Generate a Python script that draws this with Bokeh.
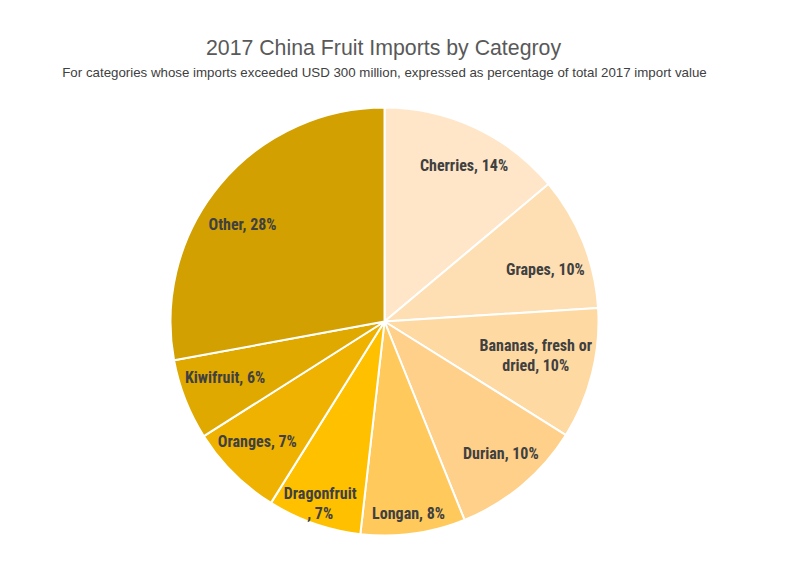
import math
from bokeh.plotting import figure
from bokeh.models import Range1d, ColumnDataSource
from bokeh.core.properties import value
from bokeh.embed import file_html
from bokeh.resources import INLINE

# ---- data ----
categories = ["Cherries", "Grapes", "Bananas, fresh or\ndried", "Durian", "Longan",
              "Dragonfruit\n", "Oranges", "Kiwifruit", "Other"]
shares = [13.9, 10.1, 9.9, 10.0, 7.9, 7.1, 7.1, 6.1, 27.9]
pct_labels = ["14%", "10%", "10%", "10%", "8%", "7%", "7%", "6%", "28%"]
colors = ["#FFE6C9", "#FEDFB4", "#FED9A2", "#FED089", "#FFC95C",
          "#FFC000", "#EFB200", "#E0A900", "#D2A000"]

title = "2017 China Fruit Imports by Categroy"
subtitle = ("For categories whose imports exceeded USD 300 million, "
            "expressed as percentage of total 2017 import value")

# ---- layout ----
W, H = 784, 560
CX, CY, R = 384, 576 - 321, 214
label_r = [175, 169, 155, 176, 193.5, 193, 175, 169, 172]
label_da = [-2.0, -4.0, 1.6, 1.4, -0.6, -0.2, -1.8, -2.0, 5.4]
LABEL_FONT = "'Liberation Sans Narrow', 'Roboto Condensed', 'DejaVu Sans Condensed', sans-serif"
TITLE_FONT = "'Liberation Sans', Arial, sans-serif"

total = sum(shares)
starts, ends, mids = [], [], []
acc = 0.0
for s in shares:
    a0 = math.pi / 2 - 2 * math.pi * acc / total
    acc += s
    a1 = math.pi / 2 - 2 * math.pi * acc / total
    starts.append(a0)
    ends.append(a1)
    mids.append((a0 + a1) / 2)

p = figure(width=W, height=H, output_backend="svg", toolbar_location=None,
           x_range=Range1d(0, W), y_range=Range1d(576 - H, 576),
           min_border=0, outline_line_color=None)
p.axis.visible = False
p.grid.visible = False
p.background_fill_color = "white"
p.border_fill_color = "white"

src = ColumnDataSource(dict(x=[CX] * len(shares), y=[CY] * len(shares),
                            start=starts, end=ends, color=colors))
p.wedge(x="x", y="y", radius=R, start_angle="start", end_angle="end",
        direction="clock", fill_color="color", line_color="white",
        line_width=2, source=src)

texts, lx, ly = [], [], []
for cat, pl, m, r, da in zip(categories, pct_labels, mids, label_r, label_da):
    texts.append(cat + ", " + pl)
    a = m + math.radians(da)
    lx.append(CX + r * math.cos(a))
    ly.append(CY + r * math.sin(a))

p.text(x=lx, y=ly, text=texts, text_align="center", text_baseline="middle",
       text_font=value(LABEL_FONT), text_font_style="bold",
       text_font_size="16px", text_color="#404040", text_line_height=1.05)

p.text(x=[383], y=[576 - 47], text=[title], text_align="center",
       text_baseline="middle", text_font=value(TITLE_FONT),
       text_font_size="21.3px", text_color="#595959")
p.text(x=[384], y=[576 - 72], text=[subtitle], text_align="center",
       text_baseline="middle", text_font=value(TITLE_FONT),
       text_font_size="13.3px", text_color="#404040")

open("out.html", "w").write(file_html(p, INLINE))
